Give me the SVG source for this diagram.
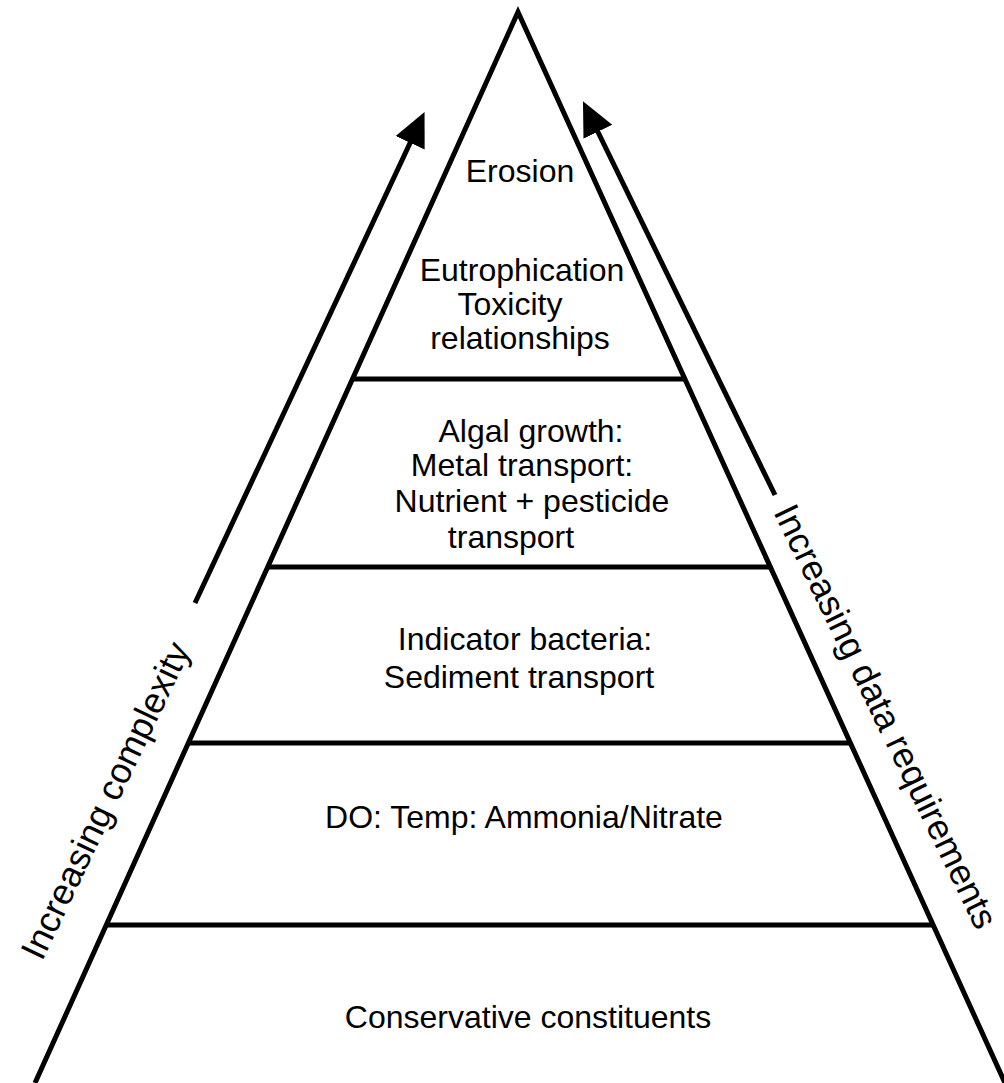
<svg xmlns="http://www.w3.org/2000/svg" width="1004" height="1083" viewBox="0 0 1004 1083">
<style>
.edge{stroke:#000;stroke-width:5;fill:none;stroke-linejoin:miter}
.tier{stroke:#000;stroke-width:5}
.arrow{stroke:#000;stroke-width:5;fill:none}
.lbl{font-family:"Liberation Sans",Arial,sans-serif;font-size:32px;fill:#000;text-anchor:middle}
.side{font-family:"Liberation Sans",Arial,sans-serif;font-size:36px;fill:#000}
</style>
<defs>
<marker id="ah" markerUnits="userSpaceOnUse" markerWidth="40" markerHeight="40" refX="2" refY="16" orient="auto">
<path d="M0,0 L34,16 L0,32 z" fill="#000"/>
</marker>
</defs>
<rect width="1004" height="1083" fill="#fff"/>
<g id="pyramid">
<polyline class="edge" points="35,1083 518,12 1005,1083"/>
</g>
<g id="tiers">
<line class="tier" x1="353" y1="379" x2="685" y2="379"/>
<line class="tier" x1="268" y1="567" x2="771" y2="567"/>
<line class="tier" x1="188" y1="743" x2="851" y2="743"/>
<line class="tier" x1="106" y1="925" x2="933" y2="925"/>
</g>
<g id="connectors">
<line class="arrow" x1="195" y1="603" x2="411" y2="141" marker-end="url(#ah)"/>
<line class="arrow" x1="775" y1="495" x2="597" y2="130" marker-end="url(#ah)"/>
</g>
<g id="node-erosion">
<text class="lbl" x="520" y="182">Erosion</text>
</g>
<g id="node-eutrophication">
<text class="lbl" x="522" y="281">Eutrophication</text>
<text class="lbl" x="510" y="315">Toxicity</text>
<text class="lbl" x="520" y="349">relationships</text>
</g>
<g id="node-algal">
<text class="lbl" x="531" y="442">Algal growth:</text>
<text class="lbl" x="522" y="476">Metal transport:</text>
<text class="lbl" x="532" y="512">Nutrient + pesticide</text>
<text class="lbl" x="511" y="548">transport</text>
</g>
<g id="node-bacteria">
<text class="lbl" x="525" y="650">Indicator bacteria:</text>
<text class="lbl" x="519" y="688">Sediment transport</text>
</g>
<g id="node-do">
<text class="lbl" x="524" y="828">DO: Temp: Ammonia/Nitrate</text>
</g>
<g id="node-conservative">
<text class="lbl" x="528" y="1028">Conservative constituents</text>
</g>
<g id="label-complexity">
<text class="side" transform="translate(42,962) rotate(-64.5)">Increasing complexity</text>
</g>
<g id="label-data">
<text class="side" transform="translate(773,512) rotate(64.1)">Increasing data requirements</text>
</g>
</svg>
